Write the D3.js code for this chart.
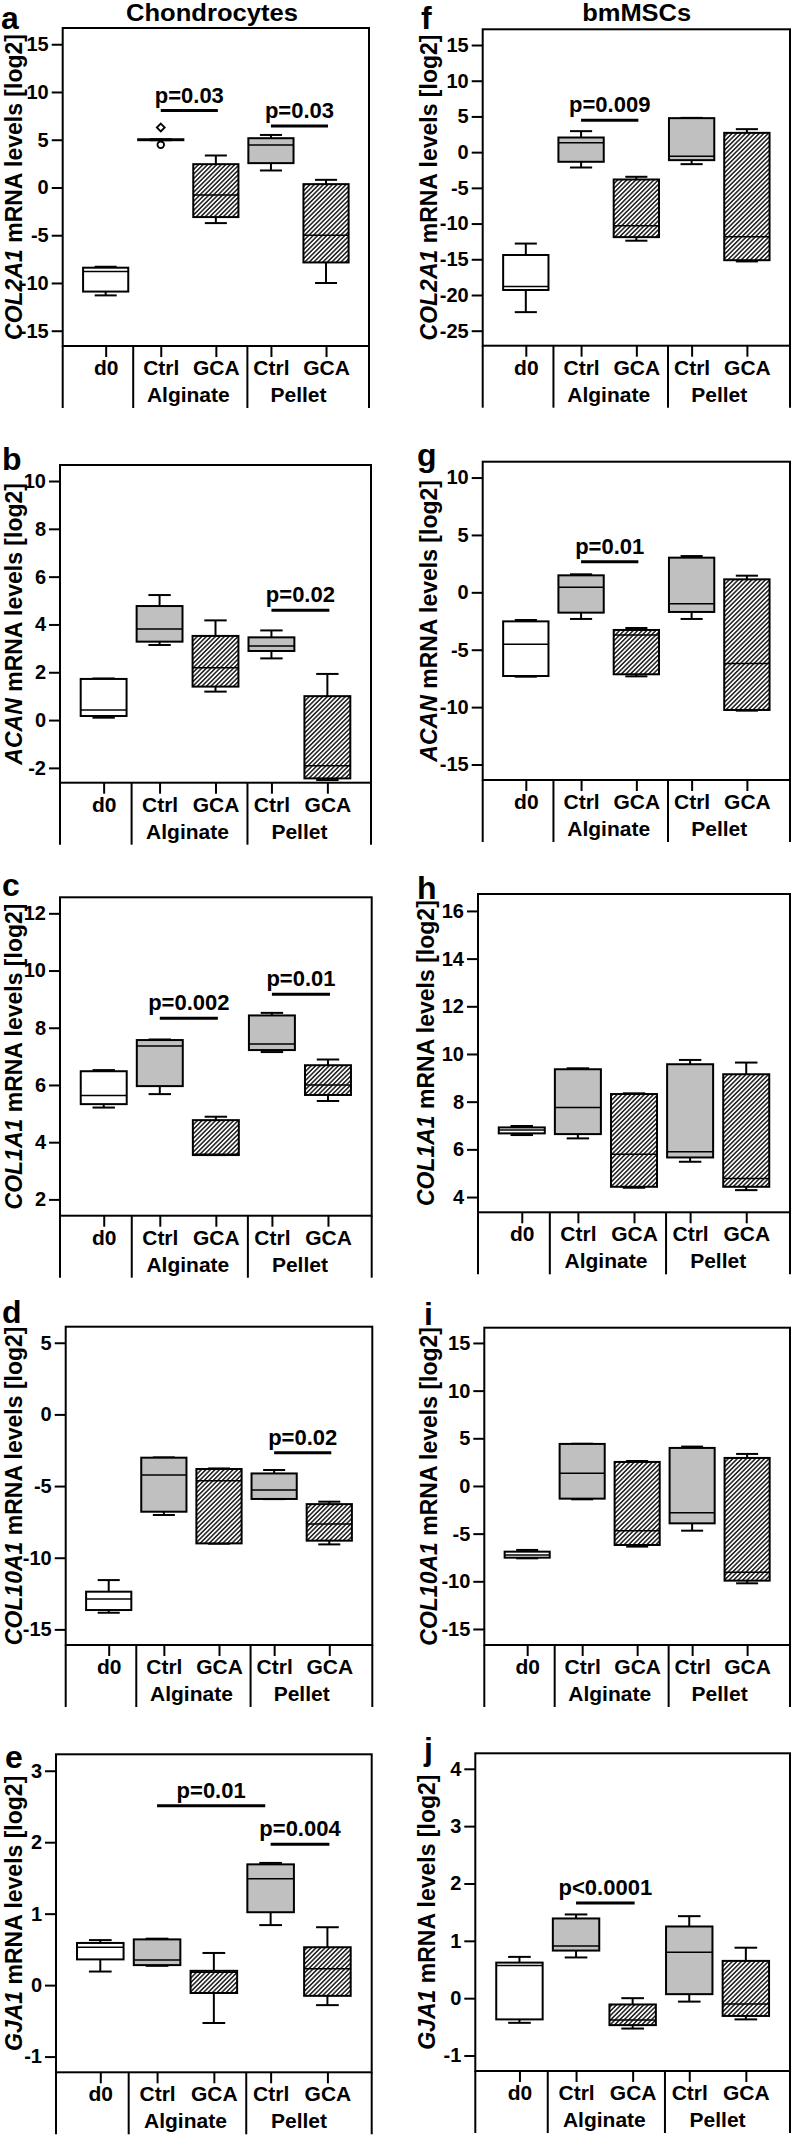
<!DOCTYPE html>
<html><head><meta charset="utf-8">
<script src="https://cdn.jsdelivr.net/npm/d3@7"></script>
<style>
body{margin:0;background:#fff}
svg{display:block}
text{font-family:"Liberation Sans",Arial,Helvetica,sans-serif;font-weight:bold;fill:#000}
</style>
</head><body>
<svg id="chart" width="792" height="2136"></svg>
<script>
// ---------- data ----------
const categories = ["d0", "Ctrl", "GCA", "Ctrl", "GCA"];
const groups = ["Alginate", "Pellet"];
const cellTypes = ["Chondrocytes", "bmMSCs"];
const genes = ["COL2A1", "ACAN", "COL1A1", "COL10A1", "GJA1"];

// box stats per category: [min, q1, median, q3, max]
const chondroCOL2A1 = [[-11.3,-10.9,-8.8,-8.4,-8.3],[4.95,4.95,5.0,5.05,5.05],[-3.73,-3.1,-0.8,2.44,3.35],[1.78,2.55,4.46,5.16,5.5],[-10.0,-7.85,-4.99,0.35,0.8]];
const chondroCOL2A1Outliers = [[1, 6.28, "diamond"], [1, 4.47, "circle"]];
const chondroACAN = [[0.1,0.17,0.42,1.72,1.74],[3.14,3.28,3.81,4.77,5.23],[1.19,1.4,2.19,3.52,4.17],[2.58,2.89,3.1,3.46,3.75],[-2.51,-2.44,-1.91,1.0,1.93]];
const chondroCOL1A1 = [[5.21,5.33,5.63,6.48,6.52],[5.68,5.96,7.36,7.57,7.59],[3.55,3.55,3.58,4.77,4.89],[7.15,7.22,7.43,8.43,8.52],[5.44,5.65,6.0,6.69,6.89]];
const chondroCOL10A1 = [[-13.84,-13.65,-12.88,-12.37,-11.56],[-7.02,-6.79,-4.23,-3.02,-3.0],[-9.02,-9.0,-4.63,-3.81,-3.77],[-5.91,-5.9,-5.28,-4.12,-3.88],[-9.07,-8.81,-7.65,-6.26,-6.09]];
const chondroGJA1 = [[0.19,0.36,0.53,0.59,0.63],[0.27,0.28,0.35,0.64,0.65],[-0.53,-0.11,0.18,0.2,0.45],[0.84,1.02,1.49,1.69,1.71],[-0.28,-0.15,0.23,0.53,0.81]];
const mscCOL2A1 = [[-22.4,-19.3,-18.8,-14.4,-12.8],[-2.15,-1.35,1.31,2.05,2.94],[-12.4,-11.9,-10.3,-3.83,-3.45],[-1.68,-1.12,-0.56,4.76,4.8],[-15.3,-15.13,-11.86,2.7,3.22]];
const mscACAN = [[-7.35,-7.29,-4.53,-2.53,-2.41],[-2.32,-1.77,0.44,1.48,1.57],[-7.32,-7.14,-3.72,-3.28,-3.11],[-2.32,-1.71,-0.99,3.02,3.16],[-10.31,-10.25,-6.21,1.13,1.45]];
const mscCOL1A1 = [[6.6,6.67,6.81,6.92,6.98],[6.46,6.64,7.76,9.36,9.4],[4.39,4.43,5.79,8.32,8.35],[5.48,5.66,5.9,9.57,9.75],[4.29,4.43,4.78,9.15,9.64]];
const mscCOL10A1 = [[-7.59,-7.52,-7.24,-6.89,-6.71],[-1.4,-1.33,1.33,4.41,4.43],[-6.36,-6.19,-4.69,2.52,2.62],[-4.69,-3.92,-2.8,3.99,4.13],[-10.21,-9.93,-9.06,2.94,3.36]];
const mscGJA1 = [[-0.43,-0.37,0.57,0.62,0.72],[0.71,0.83,0.91,1.39,1.46],[-0.53,-0.47,-0.38,-0.11,0.0],[-0.06,0.07,0.8,1.25,1.43],[-0.37,-0.31,-0.1,0.65,0.88]];

// significance: [from category, to category, bar value, label]
const chondroCOL2A1Sig = [[1, 2, 8.05, "p=0.03"], [3, 4, 6.45, "p=0.03"]];
const chondroACANSig = [[3, 4, 4.59, "p=0.02"]];
const chondroCOL1A1Sig = [[1, 2, 8.33, "p=0.002"], [3, 4, 9.17, "p=0.01"]];
const chondroCOL10A1Sig = [[3, 4, -2.67, "p=0.02"]];
const chondroGJA1Sig = [[1, 2.87, 2.51, "p=0.01"], [3, 4, 1.97, "p=0.004"]];
const mscCOL2A1Sig = [[1, 2, 4.48, "p=0.009"]];
const mscACANSig = [[1, 2, 2.67, "p=0.01"]];
const mscCOL1A1Sig = [];
const mscCOL10A1Sig = [];
const mscGJA1Sig = [[1, 2, 1.66, "p<0.0001"]];

// tick values
const ticksA = [-15,-10,-5,0,5,10,15];
const ticksB = [-2,0,2,4,6,8,10];
const ticksC = [2,4,6,8,10,12];
const ticksD = [-15,-10,-5,0,5];
const ticksE = [-1,0,1,2,3];
const ticksF = [-25,-20,-15,-10,-5,0,5,10,15];
const ticksG = [-15,-10,-5,0,5,10];
const ticksH = [4,6,8,10,12,14,16];
const ticksI = [-15,-10,-5,0,5,10,15];
const ticksJ = [-1,0,1,2,3,4];

// ---------- layout ----------
const panels = [
  {letter:"a", gene:0, stats:chondroCOL2A1, sig:chondroCOL2A1Sig, ticks:ticksA, dom:[-16.6,16.7], x0:62.7, x1:369, y0:28, y1:346, lx:1, ly:29, labelX:21.5, title:0, tx:212},
  {letter:"b", gene:1, stats:chondroACAN, sig:chondroACANSig, ticks:ticksB, dom:[-2.62,10.67], x0:60, x1:371, y0:465, y1:782.7, lx:2, ly:470, labelX:22},
  {letter:"c", gene:2, stats:chondroCOL1A1, sig:chondroCOL1A1Sig, ticks:ticksC, dom:[1.43,12.56], x0:60, x1:371.7, y0:897.3, y1:1215.7, lx:2, ly:896, labelX:21.5},
  {letter:"d", gene:3, stats:chondroCOL10A1, sig:chondroCOL10A1Sig, ticks:ticksD, dom:[-16.09,6.12], x0:65.7, x1:372.3, y0:1326.7, y1:1645, lx:2, ly:1323, labelX:22},
  {letter:"e", gene:4, stats:chondroGJA1, sig:chondroGJA1Sig, ticks:ticksE, dom:[-1.22,3.23], x0:56, x1:371.7, y0:1754.3, y1:2072.3, lx:5, ly:1768, labelX:21.5},
  {letter:"f", gene:0, stats:mscCOL2A1, sig:mscCOL2A1Sig, ticks:ticksF, dom:[-27.1,17.2], x0:482.7, x1:790, y0:29.3, y1:345.7, lx:421, ly:29, labelX:437, title:1, tx:636.7},
  {letter:"g", gene:1, stats:mscACAN, sig:mscACANSig, ticks:ticksG, dom:[-16.35,11.38], x0:482.7, x1:790, y0:461.7, y1:780, lx:417, ly:466, labelX:437},
  {letter:"h", gene:2, stats:mscCOL1A1, sig:mscCOL1A1Sig, ticks:ticksH, dom:[3.36,16.71], x0:478, x1:790, y0:894, y1:1212.3, lx:417, ly:899, labelX:434},
  {letter:"i", gene:3, stats:mscCOL10A1, sig:mscCOL10A1Sig, ticks:ticksI, dom:[-16.68,16.6], x0:484.3, x1:790, y0:1327.7, y1:1645, lx:424, ly:1325, labelX:437},
  {letter:"j", gene:4, stats:mscGJA1, sig:mscGJA1Sig, ticks:ticksJ, dom:[-1.27,4.27], x0:475.3, x1:790, y0:1753.3, y1:2071, lx:424, ly:1760, labelX:435}
];

const FONT = '"Liberation Sans",Arial,Helvetica,sans-serif';
const fills = ["#ffffff", "#c0c0c0", "url(#hatch)", "#c0c0c0", "url(#hatch)"];

const svg = d3.select("#chart");
const defs = svg.append("defs");
const pat = defs.append("pattern").attr("id", "hatch")
  .attr("patternUnits", "userSpaceOnUse").attr("width", 3.2).attr("height", 3.2)
  .attr("patternTransform", "rotate(45)");
pat.append("rect").attr("width", 3.2).attr("height", 3.2).attr("fill", "#fff");
pat.append("line").attr("x1", 0.8).attr("x2", 0.8).attr("y1", -1).attr("y2", 4.2)
  .attr("stroke", "#1a1a1a").attr("stroke-width", 1.5);

function drawPanel(p) {
  const g = svg.append("g");
  const y = d3.scaleLinear().domain(p.dom).range([p.y1, p.y0]);
  const x = d3.scalePoint().domain(d3.range(categories.length)).range([p.x0, p.x1]).padding(0.78);
  const step = x.step();
  const xp = t => x(0) + t * step;

  // y axis
  const ay = g.append("g").attr("transform", `translate(${p.x0},0)`)
    .call(d3.axisLeft(y).tickValues(p.ticks).tickSize(11).tickPadding(3).tickFormat(d => String(d)));
  ay.attr("font-size", 20).attr("font-family", FONT).attr("font-weight", "bold");
  ay.select(".domain").remove();
  ay.selectAll(".tick line").attr("stroke", "#000").attr("stroke-width", 2);
  ay.selectAll(".tick text").attr("fill", "#000");

  // x (category) axis
  const ax = g.append("g").attr("transform", `translate(0,${p.y1})`)
    .call(d3.axisBottom(x).tickSize(11).tickPadding(3).tickFormat(i => categories[i]));
  ax.attr("font-size", 21).attr("font-family", FONT).attr("font-weight", "bold");
  ax.select(".domain").remove();
  ax.selectAll(".tick line").attr("stroke", "#000").attr("stroke-width", 2);
  ax.selectAll(".tick text").attr("fill", "#000");

  // separators
  const seps = [p.x0, (x(0) + x(1)) / 2, (x(2) + x(3)) / 2 + 4, p.x1];
  g.selectAll("line.sep").data(seps).join("line").attr("class", "sep")
    .attr("x1", d => d).attr("x2", d => d).attr("y1", p.y1).attr("y2", p.y1 + 62)
    .attr("stroke", "#000").attr("stroke-width", 2);
  g.selectAll("text.grp").data(groups).join("text").attr("class", "grp")
    .attr("x", (d, i) => xp(1.5 + 2 * i)).attr("y", p.y1 + 56)
    .attr("text-anchor", "middle").attr("font-size", 21).text(d => d);

  // boxes
  const bw = 0.82 * step, cw = 0.4 * step;
  p.stats.forEach((s, i) => {
    const cx = x(i);
    const bg = g.append("g");
    const seg = (x1, y1, x2, y2, w) => bg.append("line").attr("x1", x1).attr("y1", y1).attr("x2", x2).attr("y2", y2)
      .attr("stroke", "#000").attr("stroke-width", w);
    seg(cx, y(s[4]), cx, y(s[3]), 2);
    seg(cx, y(s[1]), cx, y(s[0]), 2);
    seg(cx - cw / 2, y(s[4]), cx + cw / 2, y(s[4]), 2);
    seg(cx - cw / 2, y(s[0]), cx + cw / 2, y(s[0]), 2);
    bg.append("rect").attr("x", cx - bw / 2).attr("y", y(s[3]))
      .attr("width", bw).attr("height", Math.max(0.5, y(s[1]) - y(s[3])))
      .attr("fill", fills[i]).attr("stroke", "#000").attr("stroke-width", 2);
    seg(cx - bw / 2, y(s[2]), cx + bw / 2, y(s[2]), 1.5);
  });

  // outliers
  if (p.outliers) {
    p.outliers.forEach(o => {
      const ox = x(o[0]), oy = y(o[1]);
      if (o[2] === "circle") {
        g.append("circle").attr("cx", ox).attr("cy", oy).attr("r", 3.3)
          .attr("fill", "#fff").attr("stroke", "#000").attr("stroke-width", 1.8);
      } else {
        g.append("path").attr("d", d3.symbol(d3.symbolDiamond2, 40)())
          .attr("transform", `translate(${ox},${oy})`)
          .attr("fill", "#fff").attr("stroke", "#000").attr("stroke-width", 1.8);
      }
    });
  }

  // significance bars
  p.sig.forEach(sg => {
    const xa = xp(sg[0]), xb = xp(sg[1]) + 2, yy = y(sg[2]);
    g.append("line").attr("x1", xa).attr("x2", xb).attr("y1", yy).attr("y2", yy)
      .attr("stroke", "#000").attr("stroke-width", 3);
    g.append("text").attr("x", (xa + xb) / 2).attr("y", yy - 8)
      .attr("text-anchor", "middle").attr("font-size", 22).text(sg[3]);
  });

  // frame
  g.append("rect").attr("x", p.x0).attr("y", p.y0).attr("width", p.x1 - p.x0).attr("height", p.y1 - p.y0)
    .attr("fill", "none").attr("stroke", "#000").attr("stroke-width", 2);

  // y label (baseline at labelX, reading bottom to top)
  const cy = (p.y0 + p.y1) / 2;
  const lab = g.append("text").attr("transform", `translate(${p.labelX},${cy}) rotate(-90)`)
    .attr("text-anchor", "middle").attr("font-size", 23);
  lab.append("tspan").attr("font-style", "italic").text(genes[p.gene]);
  lab.append("tspan").text(" mRNA levels [log2]");

  // panel letter
  g.append("text").attr("x", p.lx).attr("y", p.ly).attr("font-size", 32).text(p.letter);

  // title
  if (p.title !== undefined) {
    g.append("text").attr("x", p.tx).attr("y", 21)
      .attr("text-anchor", "middle").attr("font-size", 23)
      .attr("textLength", p.title === 0 ? 172 : 109).attr("lengthAdjust", "spacingAndGlyphs")
      .text(cellTypes[p.title]);
  }
}

panels[0].outliers = chondroCOL2A1Outliers;
panels.forEach(drawPanel);
</script>
</body></html>
